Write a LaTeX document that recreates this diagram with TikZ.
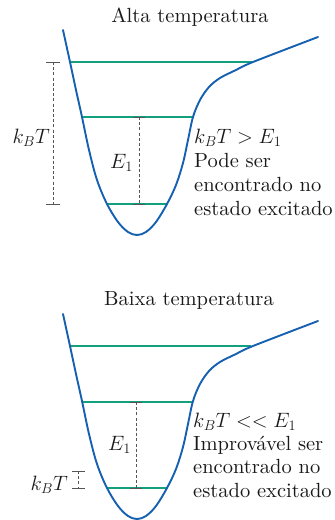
\documentclass[tikz,border=0pt]{standalone}
\usepackage{fontspec}
\setmainfont{lmroman10}[Extension=.otf, UprightFont=*-regular, ItalicFont=*-italic, BoldFont=*-bold]
\definecolor{wellblue}{HTML}{1560B0}
\definecolor{levelgreen}{HTML}{13A07F}
\definecolor{dimgray}{HTML}{555555}
\tikzset{
  wellcurve/.style={draw=wellblue, line width=1.9pt, line cap=round},
  levelline/.style={draw=levelgreen, line width=2pt},
  dimbar/.style={draw=dimgray, line width=0.7pt, dash pattern=on 3pt off 2.2pt},
  dimtick/.style={draw=dimgray, line width=0.7pt},
  lbl/.style={font=\fontsize{20.5}{24}\selectfont, inner sep=0pt, text=black!90},
}
\begin{document}
\begin{tikzpicture}[x=1pt,y=-1pt]
\useasboundingbox (0,0) rectangle (335,520);
% ---------- top panel ----------
\begin{scope}
  \node[lbl, anchor=base] (t1) at (190,22) {Alta temperatura};
  \coordinate (a1) at (70,62);  \coordinate (a2) at (253,62);
  \coordinate (b1) at (82,117); \coordinate (b2) at (193,117);
  \coordinate (c1) at (107,204);\coordinate (c2) at (167,204);
  \draw[levelline] (a1) -- (a2);
  \draw[levelline] (b1) -- (b2);
  \draw[levelline] (c1) -- (c2);
  \draw[wellcurve] plot[smooth, tension=0.55] coordinates {(63,30) (70,62) (76,90) (82,117) (89,150) (97,180) (107,204) (118,222) (128,232) (137,235) (146,232) (156,222) (167,204) (176,185) (183,163) (188,140) (193,117) (200,100) (209,87) (220,78) (236,70) (253,62) (318,37)};
  % kBT bar
  \coordinate (k1) at (53,62); \coordinate (k2) at (53,204);
  \draw[dimbar] (k1) -- (k2);
  \draw[dimtick] ([xshift=-7pt]k1) -- ([xshift=7pt]k1);
  \draw[dimtick] ([xshift=-7pt]k2) -- ([xshift=7pt]k2);
  \node[lbl, anchor=base east] (kt) at (50,143) {$k_BT$};
  % E1 bar
  \coordinate (e1) at (139,117); \coordinate (e2) at (139,204);
  \draw[dimbar] (e1) -- (e2);
  \draw[dimtick] ([xshift=-6pt]e1) -- ([xshift=6pt]e1);
  \draw[dimtick] ([xshift=-6pt]e2) -- ([xshift=6pt]e2);
  \node[lbl, anchor=base east] (et) at (133,168) {$E_1$};
  % right text
  \node[lbl, anchor=base west] (r1) at (194,143) {$k_BT > E_1$};
  \node[lbl, anchor=base west] (r2) at (194,167) {Pode ser};
  \node[lbl, anchor=base west] (r3) at (194,191) {encontrado no};
  \node[lbl, anchor=base west] (r4) at (194,215) {estado excitado};
\end{scope}
% ---------- bottom panel ----------
\begin{scope}[yshift=-284pt]
  \node[lbl, anchor=base] (t2) at (189,21) {Baixa temperatura};
  \coordinate (a3) at (70,62);  \coordinate (a4) at (251,62);
  \coordinate (b3) at (82,118); \coordinate (b4) at (193,118);
  \coordinate (c3) at (107,204);\coordinate (c4) at (167,204);
  \draw[levelline] (a3) -- (a4);
  \draw[levelline] (b3) -- (b4);
  \draw[levelline] (c3) -- (c4);
  \draw[wellcurve] plot[smooth, tension=0.55] coordinates {(63,30) (70,62) (76,90) (82,117) (89,150) (97,180) (107,204) (118,222) (128,232) (137,235) (146,232) (156,222) (167,204) (176,185) (183,163) (188,140) (193,117) (200,100) (209,87) (220,78) (236,70) (253,62) (318,37)};
  % E1 bar
  \coordinate (e3) at (136,118); \coordinate (e4) at (136,204);
  \draw[dimbar] (e3) -- (e4);
  \draw[dimtick] ([xshift=-6pt]e3) -- ([xshift=6pt]e3);
  \draw[dimtick] ([xshift=-6pt]e4) -- ([xshift=6pt]e4);
  \node[lbl, anchor=base east] (et2) at (131,166) {$E_1$};
  % kBT small bar
  \coordinate (k3) at (78,187); \coordinate (k4) at (78,204);
  \draw[dimbar] (k3) -- (k4);
  \draw[dimtick] ([xshift=-6.5pt]k3) -- ([xshift=6.5pt]k3);
  \draw[dimtick] ([xshift=-6.5pt]k4) -- ([xshift=6.5pt]k4);
  \node[lbl, anchor=base east] (kt2) at (68,206) {$k_BT$};
  % right text
  \node[lbl, anchor=base west] (r5) at (193,143) {$k_BT << E_1$};
  \node[lbl, anchor=base west] (r6) at (193,166) {Improvável ser};
  \node[lbl, anchor=base west] (r7) at (193,189.5) {encontrado no};
  \node[lbl, anchor=base west] (r8) at (193,213) {estado excitado};
\end{scope}
\end{tikzpicture}
\end{document}
